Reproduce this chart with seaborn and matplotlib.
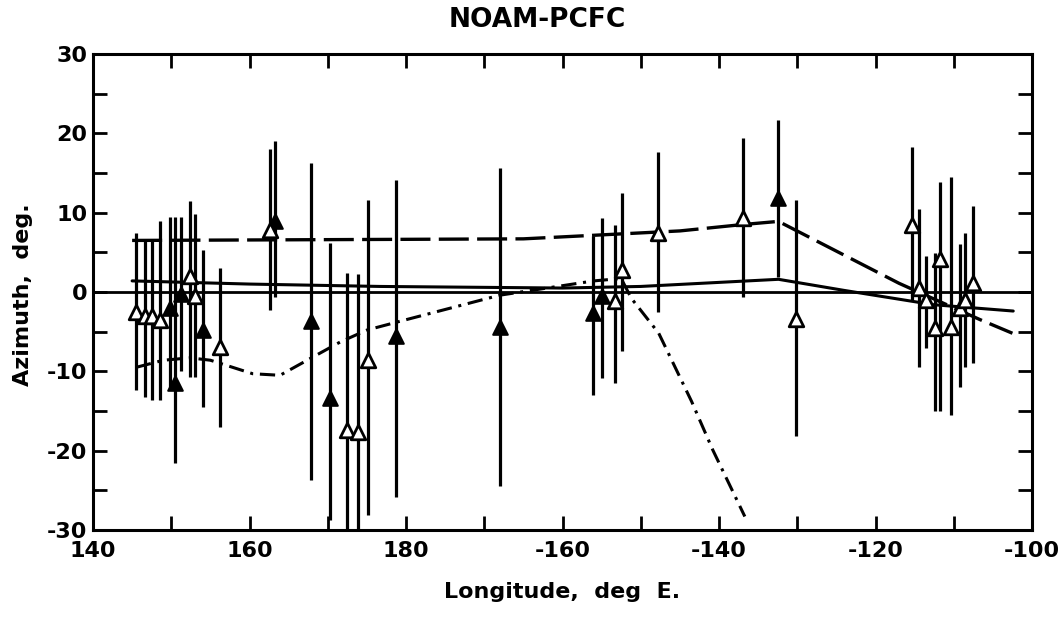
import numpy as np
import pandas as pd
import matplotlib
matplotlib.use("Agg")
import matplotlib.pyplot as plt
import seaborn as sns
from matplotlib.ticker import MultipleLocator

# ---------------- data (longitude in 0..360 east, azimuth residual deg) -------------
pt_lon = [145.5, 146.6, 147.6, 148.5, 149.8, 150.5, 151.3, 152.4, 153.0, 154.1, 156.2,
          162.6, 163.3, 167.9, 170.3, 172.4, 173.9, 175.2, 178.7,
          192.0, 203.9, 205.1, 206.7, 207.6, 212.2, 223.1, 227.6, 229.9,
          244.7, 245.6, 246.5, 247.6, 248.3, 249.7, 250.8, 251.4, 252.5]
pt_az = [-2.5, -3.0, -3.0, -3.5, -2.0, -11.5, -0.3, 2.0, -0.5, -4.8, -6.9,
         7.8, 9.0, -3.7, -13.4, -17.4, -17.6, -8.6, -5.6,
         -4.4, -2.7, -0.5, -1.1, 2.8, 7.4, 9.3, 11.8, -3.4,
         8.4, 0.5, -1.0, -4.6, 4.2, -4.4, -2.0, -1.0, 1.1]
pt_hi = [7.4, 6.5, 6.5, 8.9, 9.5, 9.5, 9.5, 11.5, 9.8, 5.3, 3.0,
         18.0, 19.0, 16.2, 6.2, 2.4, 2.3, 11.6, 14.1,
         15.6, 7.0, 9.3, 8.4, 12.5, 17.7, 19.4, 21.7, 11.6,
         18.3, 10.5, 4.5, 4.9, 13.9, 14.5, 6.0, 7.4, 10.8]
pt_lo = [-12.4, -13.2, -13.6, -13.6, -12.0, -21.6, -10.0, -10.7, -10.7, -14.5, -17.0,
         -2.3, -0.6, -23.7, -28.8, -30.0, -30.0, -28.1, -25.8,
         -24.5, -13.0, -10.8, -11.5, -7.4, -2.5, -0.6, 1.9, -18.2,
         -1.0, -9.4, -7.0, -15.0, -15.0, -15.5, -12.0, -9.4, -9.0]
pt_kind = ["open", "open", "open", "open", "filled", "filled", "filled", "open", "open", "filled", "open",
           "open", "filled", "filled", "filled", "open", "open", "open", "filled",
           "filled", "filled", "filled", "open", "open", "open", "open", "filled", "open",
           "open", "open", "open", "open", "open", "open", "open", "open", "open"]

solid_lon = [145.0, 160.0, 176.7, 200.0, 210.0, 227.6, 236.0, 247.4, 257.6]
solid_az = [1.4, 1.0, 0.7, 0.5, 0.7, 1.6, 0.2, -1.6, -2.4]

dash_lon = [145.0, 195.0, 205.0, 215.0, 223.0, 227.6, 243.0, 253.4, 257.5]
dash_az = [6.5, 6.7, 7.2, 7.7, 8.5, 8.9, 1.1, -3.5, -5.2]

dd_lon = [145.5, 149.0, 152.4, 155.0, 160.4, 163.9, 168.1, 171.6, 175.0, 179.2,
          192.0, 196.7, 204.0, 207.5, 208.8, 212.3, 216.5, 219.2, 223.3]
dd_az = [-9.5, -8.6, -8.3, -8.6, -10.3, -10.5, -8.2, -6.3, -4.8, -3.7,
         -0.4, 0.3, 1.4, 1.7, -0.8, -5.2, -13.8, -19.9, -28.3]

xtick_vals = [140, 160, 180, 200, 220, 240, 260]
xtick_labels = ["140", "160", "180", "-160", "-140", "-120", "-100"]
ytick_vals = [-30, -20, -10, 0, 10, 20, 30]

title = "NOAM-PCFC"
xlabel = "Longitude,  deg  E."
ylabel = "Azimuth,  deg."

# ---------------- style ----------------
sns.set_style("ticks")
plt.rcParams["font.family"] = ["DejaVu Sans"]
plt.rcParams["font.weight"] = "bold"
plt.rcParams["axes.unicode_minus"] = False
plt.rcParams["text.color"] = "black"
plt.rcParams["xtick.color"] = "black"
plt.rcParams["ytick.color"] = "black"
plt.rcParams["xtick.labelcolor"] = "black"
plt.rcParams["ytick.labelcolor"] = "black"

W, H = 1060, 618
fig = plt.figure(figsize=(W / 100, H / 100), dpi=100)
L, R, T, B = 93, 1032, 54, 530
ax = fig.add_axes([L / W, 1 - B / H, (R - L) / W, (B - T) / H])

pts = pd.DataFrame({"lon": pt_lon, "az": pt_az, "hi": pt_hi, "lo": pt_lo, "kind": pt_kind})

# zero line
ax.axhline(0, color="black", lw=2.0, zorder=1)

# error bars
ax.vlines(pts["lon"], pts["lo"], pts["hi"], color="black", lw=2.3, zorder=2)

# model curves
sns.lineplot(x=solid_lon, y=solid_az, ax=ax, color="black", lw=2.2, sort=False, zorder=2)
sns.lineplot(x=dash_lon, y=dash_az, ax=ax, color="black", lw=2.4, sort=False,
             linestyle=(0, (9, 2.5)), zorder=2)
sns.lineplot(x=dd_lon, y=dd_az, ax=ax, color="black", lw=2.2, sort=False,
             linestyle=(0, (5, 2.2, 1, 2.2)), zorder=2)

# triangles
fil = pts[pts["kind"] == "filled"]
opn = pts[pts["kind"] == "open"]
sns.scatterplot(data=fil, x="lon", y="az", ax=ax, marker="^", s=110,
                color="black", edgecolor="black", linewidth=1.5, zorder=4)
sns.scatterplot(data=opn, x="lon", y="az", ax=ax, marker="^", s=110,
                color="white", edgecolor="black", linewidth=2.0, zorder=4)

ax.set_xlim(140, 260)
ax.set_ylim(-30, 30)
ax.set_xticks(xtick_vals)
ax.set_xticklabels(xtick_labels)
ax.set_yticks(ytick_vals)
ax.set_yticklabels([str(v) for v in ytick_vals])
ax.xaxis.set_minor_locator(MultipleLocator(10))
ax.yaxis.set_minor_locator(MultipleLocator(5))
ax.tick_params(which="both", direction="in", top=True, right=True,
               length=10, width=2.0, color="black")
ax.tick_params(axis="x", which="major", labelsize=16, pad=8, labelcolor="black")
ax.tick_params(axis="y", which="major", labelsize=16, pad=4, labelcolor="black")
for lab in ax.get_xticklabels() + ax.get_yticklabels():
    lab.set_fontweight("bold")
for s in ax.spines.values():
    s.set_linewidth(2.2)
    s.set_color("black")

ax.set_xlabel("")
ax.set_ylabel("")
fig.text((L + R) / 2 / W, 1 - 592 / H, xlabel, ha="center", va="center",
         fontsize=16, fontweight="bold", color="black")
fig.text(23 / W, 1 - 295 / H, ylabel, ha="center", va="center", rotation=90,
         fontsize=16, fontweight="bold", color="black")
fig.text(537 / W, 1 - 20 / H, title, ha="center", va="center",
         fontsize=19, fontweight="bold", color="black")

if ax.get_legend() is not None:
    ax.get_legend().remove()

fig.savefig("out.png", dpi=100, facecolor="white")
